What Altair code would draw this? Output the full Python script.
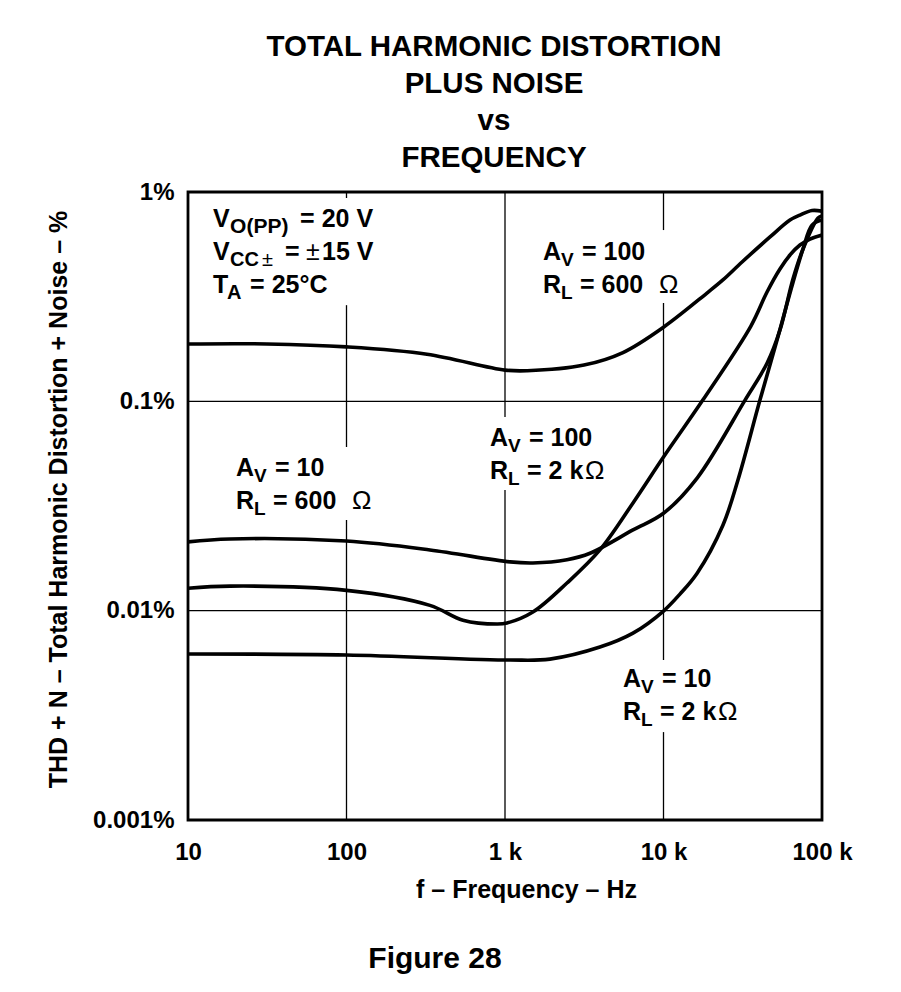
import altair as alt
import pandas as pd

FONT = "Liberation Sans"

# ---------------- curve data (frequency in Hz, THD+N in %) ----------------
av100_rl600_f = [10, 31.5, 100, 322, 1000, 1380, 3150, 5550, 10000, 18800, 23700, 31300,
                 47000, 62800, 72600, 86500, 100000]
av100_rl600_t = [0.188, 0.188, 0.182, 0.168, 0.141, 0.140, 0.149, 0.171, 0.226, 0.329, 0.380,
                 0.463, 0.610, 0.735, 0.776, 0.816, 0.810]

av10_rl600_f = [10, 18.4, 100, 336, 1077, 1500, 2460, 3440, 6420, 10000, 16300, 32700,
                45000, 54300, 65600, 75900, 94400, 100000]
av10_rl600_t = [0.0213, 0.0220, 0.0215, 0.0195, 0.0171, 0.0169, 0.0175, 0.0188, 0.0243,
                0.0292, 0.0430, 0.1014, 0.152, 0.219, 0.384, 0.534, 0.751, 0.768]

av100_rl2k_f = [10, 18.4, 100, 336, 543, 891, 1030, 1500, 2460, 3970, 6420, 10000, 17700,
                35600, 45000, 54300, 62800, 72600, 84000, 100000]
av100_rl2k_t = [0.0128, 0.0131, 0.0125, 0.0106, 0.00901, 0.00863, 0.00873, 0.00985, 0.01355,
                0.0195, 0.0327, 0.0542, 0.1014, 0.229, 0.333, 0.429, 0.500, 0.558, 0.596, 0.623]

av10_rl2k_f = [10, 100, 1077, 1920, 3970, 6420, 10000, 12700, 16300, 23700, 29500, 40600, 52000,
               65600, 75900, 86500, 100000]
av10_rl2k_t = [0.00621, 0.00614, 0.00581, 0.00587, 0.00670, 0.00781, 0.00996, 0.0120, 0.0151,
               0.0256, 0.0421, 0.1014, 0.196, 0.370, 0.534, 0.695, 0.735]

series = [
    ("AV=100 RL=600", av100_rl600_f, av100_rl600_t),
    ("AV=10 RL=600", av10_rl600_f, av10_rl600_t),
    ("AV=100 RL=2k", av100_rl2k_f, av100_rl2k_t),
    ("AV=10 RL=2k", av10_rl2k_f, av10_rl2k_t),
]

x_ticks = [10, 100, 1000, 10000, 100000]
y_ticks = [1, 0.1, 0.01, 0.001]

# grid lines (horizontal full, vertical with gaps behind the annotations)
hgrid_vals = [0.1, 0.01]
vgrid_freq = [100, 100, 100, 1000, 1000, 10000, 10000, 10000]
vgrid_lo = [0.001, 0.0605, 0.936, 0.001, 0.0841, 0.001, 0.00581, 0.658]
vgrid_hi = [0.0271, 0.288, 1.0, 0.0377, 1.0, 0.00263, 0.295, 1.0]

# annotation blocks: anchor (freq, thd) of first line baseline-left
block_freq = {"cond": 14.4, "b": 1737, "c": 804, "d": 20.1, "e": 5554}
block_thd = {"cond": 0.681, "b": 0.473, "c": 0.0612, "d": 0.0440, "e": 0.00432}

# pieces: block, text, dx, dy, size, weight
pieces = [
    ("cond", "V", 0, 0, 25, "bold"), ("cond", "O(PP)", 17, 6, 21, "bold"), ("cond", "= 20 V", 87, 0, 25, "bold"),
    ("cond", "V", 0, 33, 25, "bold"), ("cond", "CC", 17, 39, 20, "bold"), ("cond", "±", 49, 39, 20, "normal"),
    ("cond", "=", 72, 33, 25, "bold"), ("cond", "±", 93, 33, 25, "normal"), ("cond", "15 V", 109, 33, 25, "bold"),
    ("cond", "T", 0, 66, 25, "bold"), ("cond", "A", 14, 72, 20, "bold"), ("cond", "= 25°C", 37, 66, 25, "bold"),
    ("b", "A", 0, 0, 25, "bold"), ("b", "V", 18, 6, 19, "bold"), ("b", "= 100", 39, 0, 25, "bold"),
    ("b", "R", 0, 33, 25, "bold"), ("b", "L", 18, 39, 19, "bold"), ("b", "= 600", 37, 33, 25, "bold"),
    ("b", "Ω", 116, 33, 26, "normal"),
    ("c", "A", 0, 0, 25, "bold"), ("c", "V", 18, 6, 19, "bold"), ("c", "= 100", 39, 0, 25, "bold"),
    ("c", "R", 0, 33, 25, "bold"), ("c", "L", 18, 39, 19, "bold"), ("c", "= 2 k", 37, 33, 25, "bold"),
    ("c", "Ω", 95, 33, 26, "normal"),
    ("d", "A", 0, 0, 25, "bold"), ("d", "V", 18, 6, 19, "bold"), ("d", "= 10", 39, 0, 25, "bold"),
    ("d", "R", 0, 33, 25, "bold"), ("d", "L", 18, 39, 19, "bold"), ("d", "= 600", 37, 33, 25, "bold"),
    ("d", "Ω", 116, 33, 26, "normal"),
    ("e", "A", 0, 0, 25, "bold"), ("e", "V", 18, 6, 19, "bold"), ("e", "= 10", 39, 0, 25, "bold"),
    ("e", "R", 0, 33, 25, "bold"), ("e", "L", 18, 39, 19, "bold"), ("e", "= 2 k", 37, 33, 25, "bold"),
    ("e", "Ω", 95, 33, 26, "normal"),
]

# ---------------- build chart ----------------
rows = []
for name, fs, ts in series:
    for f, t in zip(fs, ts):
        rows.append({"series": name, "freq": f, "thd": t})
df = pd.DataFrame(rows)

x_scale = alt.Scale(type="log", domain=[10, 100000], nice=False)
y_scale = alt.Scale(type="log", domain=[0.001, 1], nice=False)

x_axis = alt.Axis(
    values=x_ticks, grid=False, ticks=False, tickSize=0, domain=False, labelFlush=False,
    labelExpr="datum.value >= 1000 ? format(datum.value / 1000, '~g') + ' k' : format(datum.value, '~g')",
    labelFont=FONT, labelFontSize=24, labelFontWeight="bold", labelColor="black", labelPadding=20,
    title="f – Frequency – Hz", titleFont=FONT, titleFontSize=25, titleFontWeight="bold",
    titleColor="black", titleX=338, titleY=77, titleBaseline="alphabetic", titleAlign="center",
)
y_axis = alt.Axis(
    values=y_ticks, grid=False, ticks=False, tickSize=0, domain=False, labelFlush=False,
    labelExpr="format(datum.value, '~g') + '%'",
    labelFont=FONT, labelFontSize=24, labelFontWeight="bold", labelColor="black", labelPadding=14,
    labelBaseline="middle",
    title="THD + N – Total Harmonic Distortion + Noise – %", titleFont=FONT, titleFontSize=25,
    titleFontWeight="bold", titleColor="black", titleX=-122, titleY=307, titleAngle=-90,
    titleBaseline="alphabetic", titleAlign="center",
)

hgrid_df = pd.DataFrame({"thd": hgrid_vals, "f_lo": [10] * len(hgrid_vals), "f_hi": [100000] * len(hgrid_vals)})
hgrid = alt.Chart(hgrid_df).mark_rule(color="black", strokeWidth=1.3).encode(
    x=alt.X("f_lo:Q", scale=x_scale, axis=x_axis),
    x2="f_hi:Q",
    y=alt.Y("thd:Q", scale=y_scale, axis=y_axis),
)

vgrid_df = pd.DataFrame({"freq": vgrid_freq, "lo": vgrid_lo, "hi": vgrid_hi})
vgrid = alt.Chart(vgrid_df).mark_rule(color="black", strokeWidth=1.3).encode(
    x=alt.X("freq:Q", scale=x_scale),
    y=alt.Y("lo:Q", scale=y_scale),
    y2="hi:Q",
)

curves = alt.Chart(df).mark_line(color="black", strokeWidth=3.6, interpolate="catmull-rom", clip=True).encode(
    x=alt.X("freq:Q", scale=x_scale),
    y=alt.Y("thd:Q", scale=y_scale),
    detail="series:N",
)

frame_df = pd.DataFrame({"f_lo": [10], "f_hi": [100000], "t_lo": [0.001], "t_hi": [1]})
frame = alt.Chart(frame_df).mark_rect(fillOpacity=0, stroke="black", strokeWidth=2.8).encode(
    x=alt.X("f_lo:Q", scale=x_scale),
    x2="f_hi:Q",
    y=alt.Y("t_lo:Q", scale=y_scale),
    y2="t_hi:Q",
)

layers = [hgrid, vgrid, curves, frame]
for blk, txt, dx, dy, size, weight in pieces:
    pdf = pd.DataFrame({"freq": [block_freq[blk]], "thd": [block_thd[blk]], "label": [txt]})
    layers.append(
        alt.Chart(pdf).mark_text(
            align="left", baseline="alphabetic", dx=dx, dy=dy, font=FONT, fontSize=size,
            fontWeight=weight, color="black",
        ).encode(
            x=alt.X("freq:Q", scale=x_scale),
            y=alt.Y("thd:Q", scale=y_scale),
            text="label:N",
        )
    )

fig_df = pd.DataFrame({"label": ["Figure 28"]})
layers.append(
    alt.Chart(fig_df).mark_text(
        align="center", baseline="alphabetic", font=FONT, fontSize=30, fontWeight="bold", color="black",
    ).encode(x=alt.value(247), y=alt.value(776), text="label:N")
)

chart = alt.layer(*layers).properties(
    width=634,
    height=628,
    padding={"left": 180, "top": 184, "right": 70, "bottom": 170},
    autosize=alt.AutoSizeParams(type="none"),
    title=alt.TitleParams(
        text=["TOTAL HARMONIC DISTORTION", "PLUS NOISE", "vs", "FREQUENCY"],
        font=FONT, fontSize=29.5, fontWeight="bold", color="black", lineHeight=37,
        anchor="middle", dx=-11, offset=7,
    ),
).configure_view(stroke="black", strokeWidth=2.6, fill="white").configure(background="white")

chart.save("out.html", embed_options={"renderer": "svg", "actions": False})
